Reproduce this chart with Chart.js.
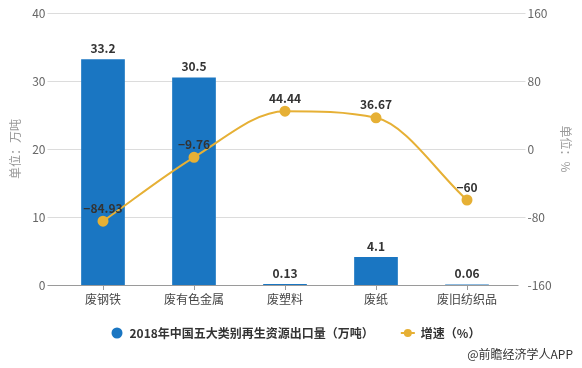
<!DOCTYPE html>
<html>
<head>
<meta charset="utf-8">
<script src="https://cdn.jsdelivr.net/npm/chart.js@4"></script>
<style>
    html, body { margin: 0; padding: 0; background: #fff; }
    #wrap { position: relative; width: 582px; height: 368px; }
    #source {
        position: absolute; right: 9px; top: 345px;
        font: 12px "Noto Sans CJK SC", sans-serif; color: #333;
    }
</style>
</head>
<body>
<div id="wrap">
    <canvas id="chart" width="582" height="368"></canvas>
    <div id="source">@前瞻经济学人APP</div>
</div>
<script>
const categories = ["废钢铁", "废有色金属", "废塑料", "废纸", "废旧纺织品"];
const exportVolume = [33.2, 30.5, 0.13, 4.1, 0.06];
const growthRate = [-84.93, -9.76, 44.44, 36.67, -60];
const seriesNames = ["2018年中国五大类别再生资源出口量（万吨）", "增速（%）"];

const BLUE = "#1a76c2";
const GOLD = "#e6b035";
const FONT = '"Noto Sans CJK SC", "Noto Sans", sans-serif';

// grid lines run a little wider than the category band
const gridPlugin = {
    id: "grid",
    beforeDatasetsDraw(chart) {
        const { ctx, chartArea, scales } = chart;
        ctx.save();
        ctx.strokeStyle = "#dcdcdc";
        ctx.lineWidth = 1;
        scales.y.ticks.forEach(t => {
            const y = Math.round(scales.y.getPixelForValue(t.value)) + 0.5;
            if (t.value === 0) return;
            ctx.beginPath();
            ctx.moveTo(chartArea.left - 10, y);
            ctx.lineTo(chartArea.right + 13, y);
            ctx.stroke();
        });
        const y0 = Math.round(scales.y.getPixelForValue(0)) + 0.5;
        ctx.strokeStyle = "#9a9a9a";
        ctx.beginPath();
        ctx.moveTo(chartArea.left - 10, y0);
        ctx.lineTo(chartArea.right + 6, y0);
        ctx.stroke();
        ctx.restore();
    }
};

// value labels above bars and points
const fmt = v => String(v).replace("-", "\u2212");
const labelPlugin = {
    id: "labels",
    afterDatasetsDraw(chart) {
        const { ctx } = chart;
        ctx.save();
        ctx.font = "bold 12px " + FONT;
        ctx.fillStyle = "#333";
        ctx.textAlign = "center";
        ctx.textBaseline = "bottom";
        chart.data.datasets.forEach((ds, i) => {
            const meta = chart.getDatasetMeta(i);
            meta.data.forEach((el, j) => {
                const gap = ds.type === "line" ? 7 : 5;
                ctx.fillText(fmt(ds.data[j]), el.x, el.y - gap);
            });
        });
        ctx.restore();
    }
};

// legend drawn by hand so the line series gets a line-and-dot icon
const legendPlugin = {
    id: "customLegend",
    afterDraw(chart) {
        const { ctx } = chart;
        const y = 333;
        ctx.save();
        ctx.font = "bold 12px " + FONT;
        ctx.textBaseline = "middle";
        const w1 = ctx.measureText(seriesNames[0]).width;
        let x = 111.5;
        ctx.fillStyle = BLUE;
        ctx.beginPath();
        ctx.arc(x + 5.5, y, 5.5, 0, Math.PI * 2);
        ctx.fill();
        x += 18;
        ctx.fillStyle = "#333";
        ctx.fillText(seriesNames[0], x, y);
        x += w1 + 27;
        ctx.strokeStyle = GOLD;
        ctx.lineWidth = 2;
        ctx.beginPath();
        ctx.moveTo(x, y);
        ctx.lineTo(x + 14, y);
        ctx.stroke();
        ctx.fillStyle = GOLD;
        ctx.beginPath();
        ctx.arc(x + 7, y, 4, 0, Math.PI * 2);
        ctx.fill();
        x += 20;
        ctx.fillStyle = "#333";
        ctx.fillText(seriesNames[1], x, y);
        ctx.restore();
    }
};

new Chart(document.getElementById("chart"), {
    data: {
        labels: categories,
        datasets: [
            {
                type: "line",
                label: seriesNames[1],
                data: growthRate,
                yAxisID: "y1",
                borderColor: GOLD,
                backgroundColor: GOLD,
                borderWidth: 2,
                pointRadius: 4.5,
                pointHoverRadius: 4.5,
                cubicInterpolationMode: "monotone",
                order: 0
            },
            {
                type: "bar",
                label: seriesNames[0],
                data: exportVolume,
                yAxisID: "y",
                backgroundColor: BLUE,
                categoryPercentage: 1,
                barPercentage: 0.48,
                order: 1
            }
        ]
    },
    options: {
        responsive: false,
        animation: false,
        layout: { padding: { top: 13, bottom: 58, left: 0, right: 0 } },
        plugins: {
            legend: { display: false },
            tooltip: { enabled: false }
        },
        scales: {
            x: {
                offset: true,
                afterFit: s => { s.height = 25; },
                border: { display: false },
                grid: {
                    offset: false,
                    drawOnChartArea: false,
                    tickLength: 5,
                    color: "#9a9a9a"
                },
                ticks: { color: "#444", font: { size: 12, family: FONT }, padding: 2 }
            },
            y: {
                position: "left",
                min: 0,
                max: 40,
                afterFit: s => { s.width = 57.5; },
                border: { display: false },
                grid: { display: false, drawTicks: true, tickLength: 12 },
                ticks: { stepSize: 10, color: "#666", font: { size: 12, family: FONT }, padding: 0 },
                title: {
                    display: true,
                    text: "单位：万吨",
                    color: "#999",
                    font: { size: 12, family: FONT },
                    padding: { top: 8, bottom: 0 }
                }
            },
            y1: {
                position: "right",
                min: -160,
                max: 160,
                afterFit: s => { s.width = 69.5; },
                border: { display: false },
                grid: { display: false, drawTicks: true, tickLength: 15 },
                ticks: { stepSize: 80, color: "#666", font: { size: 12, family: FONT }, padding: 0 },
                title: {
                    display: true,
                    text: "单位：%",
                    color: "#999",
                    font: { size: 12, family: FONT },
                    padding: { top: 9, bottom: 0 }
                }
            }
        }
    },
    plugins: [gridPlugin, labelPlugin, legendPlugin]
});
</script>
</body>
</html>
